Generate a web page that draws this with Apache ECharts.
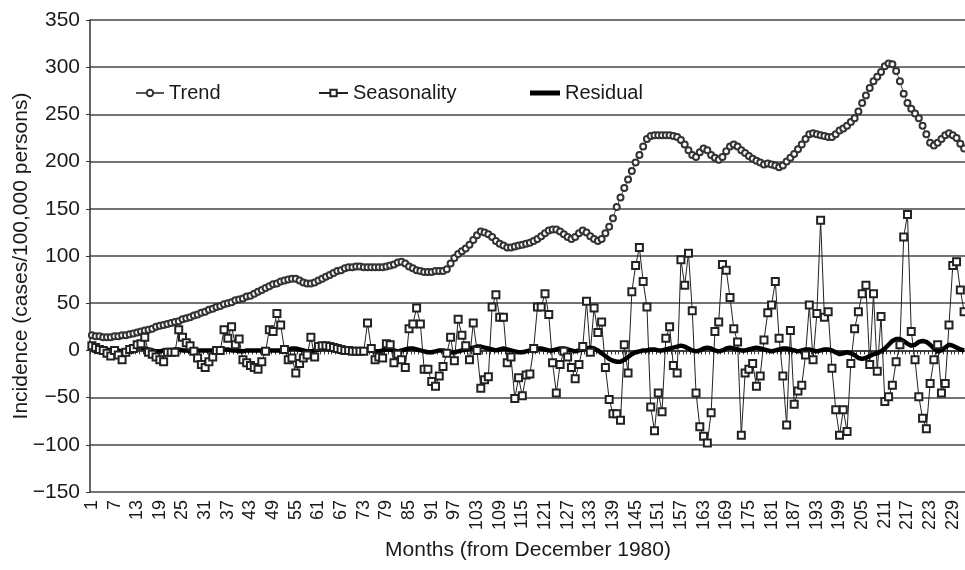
<!DOCTYPE html>
<html>
<head>
<meta charset="utf-8">
<script src="https://cdn.jsdelivr.net/npm/echarts@6/dist/echarts.min.js"></script>
<style>
html,body{margin:0;padding:0;background:#fff;}
#chart{width:965px;height:570px;}
</style>
</head>
<body>
<div id="chart"></div>
<script>
// Months 1..232
const months = [];
for (let i = 1; i <= 232; i++) months.push(String(i));

const trend = [
16,15,15,14,14,14,15,15,16,16,
17,18,19,20,21,22,23,25,26,27,
28,29,30,31,33,34,35,37,38,40,
41,43,44,46,47,49,50,51,53,54,
55,57,58,60,62,64,66,68,70,71,
73,74,75,76,76,74,72,71,71,72,
74,76,78,80,82,84,85,87,88,88,
89,89,88,88,88,88,88,88,89,90,
91,93,94,92,89,87,85,84,83,83,
83,84,84,84,86,92,98,102,105,108,
112,117,122,126,125,123,120,116,113,111,
109,109,110,111,112,113,114,116,118,121,
124,127,128,128,126,123,120,118,120,124,
127,125,121,118,116,118,124,131,140,152,
162,172,181,190,199,207,216,224,227,228,
228,228,228,228,227,226,223,218,212,207,
205,210,214,212,207,204,202,205,211,216,
218,216,212,209,206,203,201,199,197,198,
197,196,194,196,200,204,208,213,218,224,
229,230,229,228,227,226,226,229,233,235,
238,242,246,253,262,270,278,285,290,295,
301,304,303,296,285,272,262,256,251,246,
238,229,220,217,220,224,228,230,228,225,
219,214
];

const seasonality = [
5,3,1,0,-3,-6,0,-5,-10,-2,
1,2,6,7,14,-2,-4,-7,-10,-12,
-2,-2,-2,22,14,8,5,-1,-8,-15,
-18,-12,-7,0,0,22,13,25,6,12,
-10,-13,-16,-18,-20,-12,-1,22,20,39,
27,1,-10,-8,-24,-14,-8,-5,14,-7,
4,5,5,4,3,2,1,0,0,-1,
-1,-1,-1,29,2,-10,-7,-8,7,6,
-13,-4,-10,-18,23,28,45,28,-20,-20,
-33,-38,-27,-17,-3,14,-11,33,16,5,
-10,29,0,-40,-31,-28,46,59,35,35,
-13,-7,-51,-29,-48,-26,-25,2,46,46,
60,38,-13,-45,-15,-1,-7,-18,-30,-15,
4,52,-2,45,19,30,-18,-52,-67,-67,
-74,6,-24,62,90,109,73,46,-60,-85,
-45,-65,13,25,-16,-24,96,69,103,42,
-45,-81,-91,-98,-66,20,30,91,85,56,
23,9,-90,-24,-20,-14,-38,-27,11,40,
48,73,13,-27,-79,21,-57,-43,-37,-5,
48,-10,39,138,35,41,-19,-63,-90,-63,
-86,-14,23,41,60,69,-15,60,-22,36,
-54,-49,-37,-12,6,120,144,20,-10,-49,
-72,-83,-35,-10,6,-45,-35,27,90,94,
64,41
];

const residual = [
0,0,0,1,1,0,0,0,-1,0,
1,2,3,3,2,1,0,-1,-1,0,
0,0,1,1,0,0,-1,-1,0,0,
0,0,0,0,0,1,1,0,0,-1,
-1,0,0,0,0,0,0,0,0,0,
0,0,1,2,2,1,0,-1,-1,0,
1,2,2,1,0,0,-1,-1,0,0,
0,0,0,0,0,-1,-1,0,1,1,
0,-1,0,1,2,2,1,0,-1,-2,
-2,-1,0,0,-1,-2,-2,-1,0,1,
2,3,4,4,3,2,1,0,1,2,
1,0,-1,-2,-2,-1,0,1,2,2,
1,0,0,1,2,2,1,0,-1,0,
1,2,3,2,0,-3,-6,-9,-11,-12,
-12,-10,-7,-4,-2,-1,0,0,1,1,
0,0,1,2,3,4,5,4,2,0,
-1,0,2,3,2,0,-1,0,2,3,
2,1,0,0,1,2,3,2,1,0,
-1,0,1,2,2,1,0,-1,0,1,
1,0,-1,0,1,1,0,-2,-4,-3,
-2,-3,-5,-8,-9,-8,-6,-4,-3,-1,
2,6,10,12,12,10,7,5,6,9,
10,9,6,2,-1,0,3,6,5,3,
1,0
];

const yMin = -150, yMax = 350, yStep = 50;
const FONT = "'Liberation Sans', Arial, Helvetica, sans-serif";

const chart = echarts.init(document.getElementById('chart'), null, {renderer: 'canvas'});
const legendText = {fontSize: 20, color: '#1a1a1a', fontFamily: FONT};
chart.setOption({
  animation: false,
  backgroundColor: '#fff',
  grid: {left: 90, top: 20, width: 876, height: 472, containLabel: false, outerBoundsMode: 'none'},
  legend: [
    {data: ['Trend'], left: 135, top: 83, padding: 0, itemWidth: 28, itemHeight: 8, itemGap: 0, textStyle: legendText},
    {data: ['Seasonality'], left: 318, top: 83, padding: 0, itemWidth: 29, itemHeight: 8, itemGap: 0, textStyle: legendText},
    {data: [{name: 'Residual', icon: 'rect'}], left: 530, top: 83, padding: 0, itemWidth: 30, itemHeight: 5, itemGap: 0, textStyle: legendText}
  ],
  xAxis: {
    type: 'category',
    data: months,
    boundaryGap: true,
    name: 'Months (from December 1980)',
    nameLocation: 'middle',
    nameGap: 48,
    nameMoveOverlap: false,
    nameTextStyle: {fontSize: 21, color: '#1a1a1a', fontFamily: FONT},
    axisLine: {show: true, lineStyle: {color: '#333', width: 1.5}},
    axisTick: {show: true, interval: 0, length: 4, lineStyle: {color: '#333', width: 1}},
    axisLabel: {interval: 5, rotate: 90, fontSize: 18, color: '#1a1a1a', fontFamily: FONT, margin: 8},
    splitLine: {show: false}
  },
  yAxis: {
    type: 'value',
    min: yMin, max: yMax, interval: yStep,
    name: 'Incidence (cases/100,000 persons)',
    nameLocation: 'middle',
    nameGap: 58,
    nameMoveOverlap: false,
    nameTextStyle: {fontSize: 21, color: '#1a1a1a', fontFamily: FONT},
    axisLine: {show: true, lineStyle: {color: '#333', width: 1.5}},
    axisTick: {show: true, length: 4, lineStyle: {color: '#333'}},
    axisLabel: {fontSize: 21, color: '#1a1a1a', fontFamily: FONT, margin: 10,
      formatter: v => (v < 0 ? '\u2212' + Math.abs(v) : String(v))},
    splitLine: {show: true, lineStyle: {color: '#444', width: 1.5}}
  },
  series: [
    {
      name: 'Trend', type: 'line', data: trend,
      symbol: 'emptyCircle', symbolSize: 6, showAllSymbol: true,
      itemStyle: {color: '#333', borderWidth: 1.2},
      lineStyle: {color: '#555', width: 1}
    },
    {
      name: 'Seasonality', type: 'line', data: seasonality,
      symbol: 'emptyRect', symbolSize: 7, showAllSymbol: true,
      itemStyle: {color: '#222', borderWidth: 1.2},
      lineStyle: {color: '#222', width: 1}
    },
    {
      name: 'Residual', type: 'line', data: residual,
      symbol: 'none',
      itemStyle: {color: '#000'},
      lineStyle: {color: '#000', width: 4.5}
    }
  ]
});
</script>
</body>
</html>
